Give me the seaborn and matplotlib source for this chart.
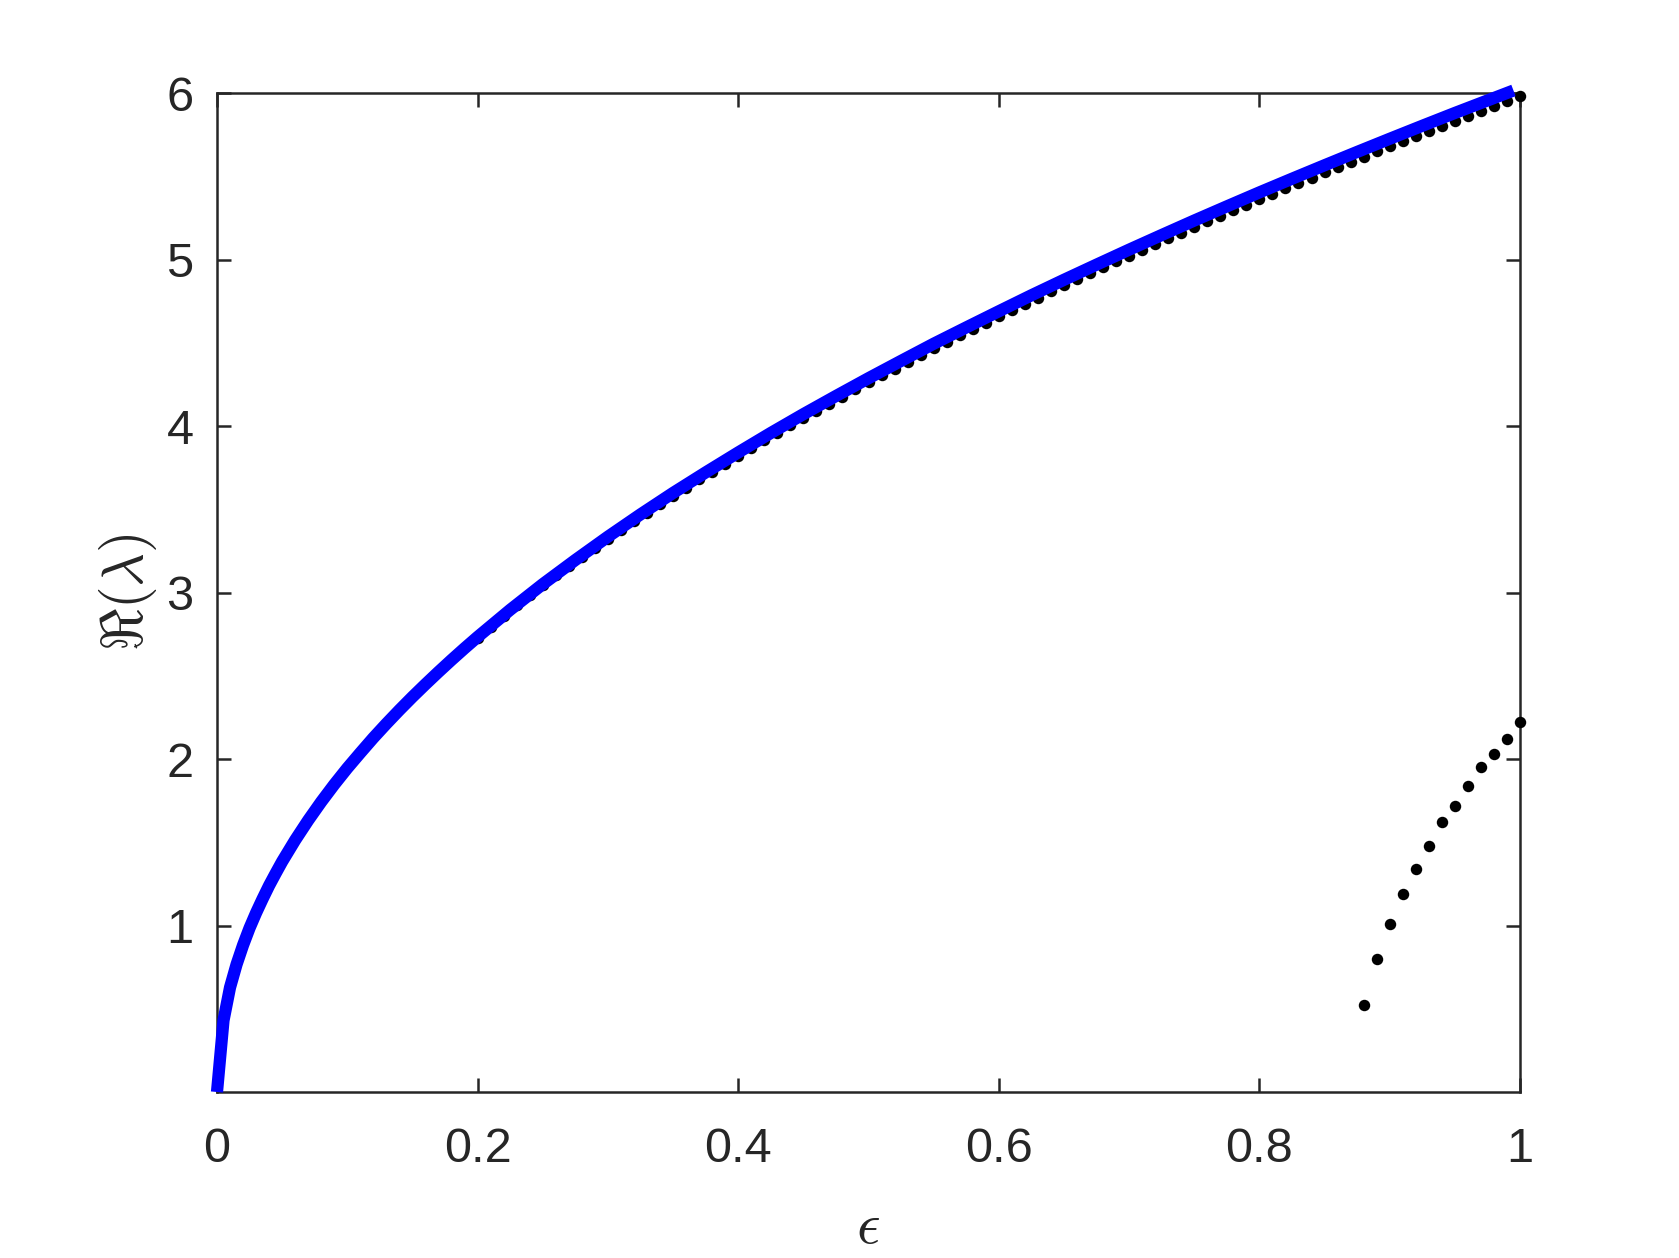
import numpy as np
import pandas as pd
import matplotlib
matplotlib.use("Agg")
import matplotlib.pyplot as plt
import seaborn as sns

# ---- data ----
eps_line = [0.0, 0.005, 0.01, 0.015, 0.02, 0.025, 0.03, 0.035, 0.04, 0.045, 0.05,
            0.06, 0.07, 0.08, 0.09, 0.10, 0.11, 0.12, 0.13, 0.14, 0.15, 0.16, 0.17,
            0.18, 0.19, 0.20, 0.225, 0.25, 0.275, 0.30, 0.325, 0.35, 0.375, 0.40,
            0.425, 0.45, 0.475, 0.50, 0.525, 0.55, 0.575, 0.60, 0.625, 0.65, 0.675,
            0.70, 0.725, 0.75, 0.775, 0.80, 0.825, 0.85, 0.875, 0.90, 0.925, 0.95,
            0.975, 0.995]
re_line = [0.0, 0.430, 0.628, 0.766, 0.882, 0.985, 1.076, 1.160, 1.240, 1.313, 1.384,
           1.513, 1.632, 1.743, 1.847, 1.945, 2.037, 2.127, 2.212, 2.294, 2.373, 2.449,
           2.523, 2.595, 2.665, 2.733, 2.896, 3.050, 3.195, 3.335, 3.469, 3.598, 3.721,
           3.841, 3.958, 4.071, 4.180, 4.287, 4.391, 4.494, 4.592, 4.689, 4.785, 4.878,
           4.969, 5.059, 5.147, 5.234, 5.319, 5.403, 5.485, 5.566, 5.646, 5.725, 5.803,
           5.880, 5.955, 6.015]

eps_upper = np.round(np.linspace(0.20, 1.00, 81), 2)
re_upper = [2.729, 2.795, 2.860, 2.922, 2.983, 3.045, 3.103, 3.160, 3.213, 3.267,
            3.320, 3.374, 3.427, 3.478, 3.530, 3.580, 3.630, 3.679, 3.726, 3.774,
            3.821, 3.868, 3.914, 3.959, 4.004, 4.048, 4.092, 4.135, 4.177, 4.220,
            4.262, 4.304, 4.345, 4.385, 4.425, 4.466, 4.505, 4.545, 4.582, 4.621,
            4.659, 4.697, 4.735, 4.771, 4.808, 4.845, 4.882, 4.918, 4.953, 4.989,
            5.024, 5.059, 5.094, 5.127, 5.162, 5.196, 5.230, 5.264, 5.296, 5.329,
            5.363, 5.395, 5.428, 5.459, 5.492, 5.524, 5.556, 5.587, 5.618, 5.649,
            5.680, 5.711, 5.742, 5.772, 5.802, 5.832, 5.862, 5.892, 5.921, 5.951,
            5.980]

eps_lower = [0.88, 0.89, 0.90, 0.91, 0.92, 0.93, 0.94, 0.95, 0.96, 0.97, 0.98, 0.99, 1.00]
re_lower = [0.52, 0.80, 1.01, 1.19, 1.34, 1.48, 1.62, 1.72, 1.84, 1.95, 2.03, 2.12, 2.22]

xtick_vals = [0, 0.2, 0.4, 0.6, 0.8, 1]
xtick_labels = ["0", "0.2", "0.4", "0.6", "0.8", "1"]
ytick_vals = [1, 2, 3, 4, 5, 6]
ytick_labels = ["1", "2", "3", "4", "5", "6"]

# ---- style ----
sns.set_theme(style="white")
plt.rcParams['font.family'] = ['Liberation Sans', 'DejaVu Sans']
plt.rcParams['mathtext.fontset'] = 'cm'

AX_COL = '#262626'
W, H, DPI = 1679, 1258, 200
fig = plt.figure(figsize=(W / DPI, H / DPI), dpi=DPI)
fig.patch.set_facecolor('white')
ax = fig.add_axes([217 / W, 1 - 1092 / H, 1303 / W, 999 / H])
ax.set_facecolor('white')

dots = pd.concat([
    pd.DataFrame({'eps': eps_upper, 're': re_upper, 'branch': 'upper'}),
    pd.DataFrame({'eps': eps_lower, 're': re_lower, 'branch': 'lower'}),
], ignore_index=True)

sns.scatterplot(data=dots, x='eps', y='re', ax=ax, color='black', marker='o',
                s=17, linewidth=0, zorder=2, clip_on=False, legend=False)

line_df = pd.DataFrame({'eps': eps_line, 're': re_line})
sns.lineplot(data=line_df, x='eps', y='re', ax=ax, color=(0, 0, 1), linewidth=4.4,
             zorder=3, clip_on=False, sort=False, estimator=None,
             solid_joinstyle='round', solid_capstyle='butt')

ax.set_xlim(0, 1)
ax.set_ylim(0, 6)
ax.set_xticks(xtick_vals)
ax.set_xticklabels(xtick_labels)
ax.set_yticks(ytick_vals)
ax.set_yticklabels(ytick_labels)

ax.tick_params(direction='in', length=5, width=0.9, color=AX_COL, labelcolor=AX_COL,
               labelsize=17.5, top=True, right=True, bottom=True, left=True)
ax.tick_params(axis='x', pad=12.5)
ax.tick_params(axis='y', pad=8.5)
for sp in ax.spines.values():
    sp.set_visible(True)
    sp.set_color(AX_COL)
    sp.set_linewidth(0.9)
    sp.set_zorder(1)

ax.set_xlabel(r'$\epsilon$', fontsize=21, color=AX_COL, va='center')
ax.xaxis.set_label_coords(0.5, (1092 - 1228) / 999)
ax.set_ylabel(r'$\Re(\lambda)$', fontsize=21, color=AX_COL, va='center')
ax.yaxis.set_label_coords((128 - 217) / 1303, 0.5)

fig.savefig('out.png', dpi=DPI, facecolor='white')
